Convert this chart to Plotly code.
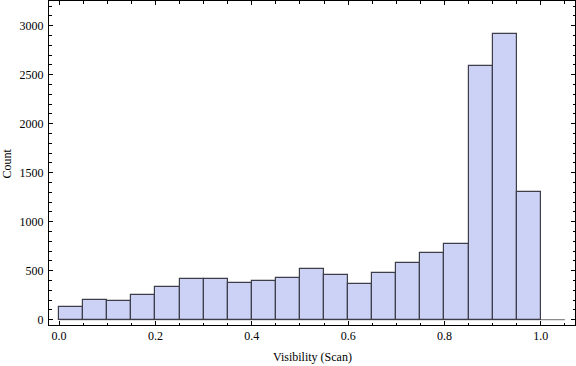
import plotly.graph_objects as go

bin_starts = [0.00, 0.05, 0.10, 0.15, 0.20, 0.25, 0.30, 0.35, 0.40, 0.45,
              0.50, 0.55, 0.60, 0.65, 0.70, 0.75, 0.80, 0.85, 0.90, 0.95]
bin_width = 0.05
counts = [129, 201, 190, 252, 333, 415, 415, 374, 395, 425,
          517, 456, 364, 476, 578, 680, 772, 2589, 2914, 1305]

x_title = "Visibility (Scan)"
y_title = "Count"
x_tickvals = [0.0, 0.2, 0.4, 0.6, 0.8, 1.0]
x_ticktext = ["0.0", "0.2", "0.4", "0.6", "0.8", "1.0"]
y_tickvals = [0, 500, 1000, 1500, 2000, 2500, 3000]

FONT = "Liberation Serif"

fig = go.Figure()
fig.add_trace(go.Bar(
    x=bin_starts,
    y=counts,
    width=[bin_width] * len(bin_starts),
    offset=0,
    marker=dict(color="rgb(204,210,245)",
                line=dict(color="rgb(62,62,74)", width=1.2)),
    hoverinfo="x+y",
))

# axis line at y = 0 spanning histogram range
fig.add_shape(type="line", xref="x", yref="y",
              x0=0, x1=1.05, y0=0, y1=0,
              line=dict(color="rgb(110,110,110)", width=1), layer="below")

fig.add_annotation(text=x_title, xref="paper", yref="paper",
                   x=0.5, y=-0.072, xanchor="center", yanchor="top",
                   showarrow=False, font=dict(family=FONT, size=12, color="black"))
fig.add_annotation(text=y_title, xref="paper", yref="paper",
                   x=-0.062, y=0.5, xanchor="right", yanchor="middle",
                   textangle=-90, showarrow=False,
                   font=dict(family=FONT, size=12, color="black"))

fig.update_layout(
    width=576, height=366,
    margin=dict(l=49, r=1, t=1, b=41, autoexpand=False),
    paper_bgcolor="white", plot_bgcolor="white",
    showlegend=False,
    bargap=0,
    font=dict(family=FONT, size=12, color="black"),
)
fig.update_xaxes(
    automargin=False,
    range=[-0.021, 1.071],
    tickvals=x_tickvals, ticktext=x_ticktext,
    ticks="inside", ticklen=4, tickwidth=1, tickcolor="black",
    minor=dict(dtick=0.05, tick0=0, ticks="inside", ticklen=2.5, tickcolor="black"),
    showline=True, linecolor="black", linewidth=1, mirror="allticks",
    showgrid=False, zeroline=False,
    tickfont=dict(family=FONT, size=12, color="black"),
)
fig.update_yaxes(
    automargin=False,
    range=[-54, 3252],
    tickvals=y_tickvals,
    ticks="inside", ticklen=4, tickwidth=1, tickcolor="black",
    minor=dict(dtick=100, tick0=0, ticks="inside", ticklen=2.5, tickcolor="black"),
    showline=True, linecolor="black", linewidth=1, mirror="allticks",
    showgrid=False, zeroline=False,
    ticklabelstandoff=2,
    tickfont=dict(family=FONT, size=12, color="black"),
)

fig.write_html("out.html",
               config={"displayModeBar": False},
               post_script="document.body.style.margin='0px';document.body.style.padding='0px';")
